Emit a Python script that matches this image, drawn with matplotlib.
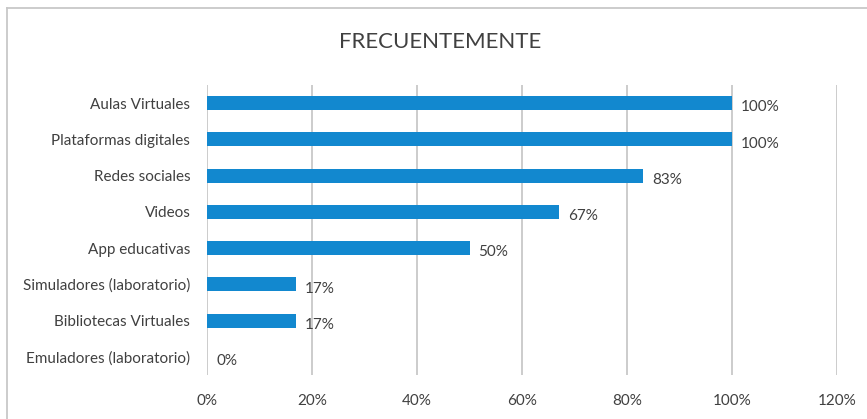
import matplotlib.pyplot as plt
from matplotlib.lines import Line2D
from matplotlib.ticker import FuncFormatter

categories = ["Aulas Virtuales", "Plataformas digitales", "Redes sociales", "Videos",
              "App educativas", "Simuladores (laboratorio)", "Bibliotecas Virtuales",
              "Emuladores (laboratorio)"]
values = [100, 100, 83, 67, 50, 17, 17, 0]
xticks = [0, 20, 40, 60, 80, 100, 120]

plt.rcParams['font.family'] = ['Lato', 'DejaVu Sans']

fig = plt.figure(figsize=(8.67, 4.19), dpi=100)
ax = fig.add_axes([207 / 867, 1 - 375 / 419, 630 / 867, 290 / 419])

ypos = list(range(len(categories)))
ax.barh(ypos, values, height=0.38, color='#1288cf', zorder=3)
ax.set_ylim(len(categories) - 0.5, -0.5)
ax.set_xlim(0, 120)
ax.set_yticks(ypos)
ax.set_yticklabels(categories)
ax.set_xticks(xticks)
ax.xaxis.set_major_formatter(FuncFormatter(lambda v, p: f"{v:.0f}%"))
ax.tick_params(length=0, labelsize=11, colors='#404040')
ax.tick_params(axis='y', pad=12)
ax.tick_params(axis='x', pad=14)
ax.grid(axis='x', color='#c8c8c8', linewidth=1.3, zorder=0)
for s in ax.spines.values():
    s.set_visible(False)

for y, v in zip(ypos, values):
    ax.annotate(f"{v}%", (v, y), xytext=(6.5, -3), textcoords='offset points',
                ha='left', va='center', fontsize=11, color='#404040')

fig.text(440 / 867, 1 - 42 / 419, "FRECUENTEMENTE", ha='center', va='center',
         fontsize=16, color='#404040')

# chart border (top and left visible)
fig.add_artist(Line2D([7 / 867, 1], [1 - 8 / 419, 1 - 8 / 419], color='#c8c8c8', lw=1.3))
fig.add_artist(Line2D([7 / 867, 7 / 867], [0, 1 - 8 / 419], color='#c8c8c8', lw=1.3))

fig.savefig("out.png", dpi=100)
